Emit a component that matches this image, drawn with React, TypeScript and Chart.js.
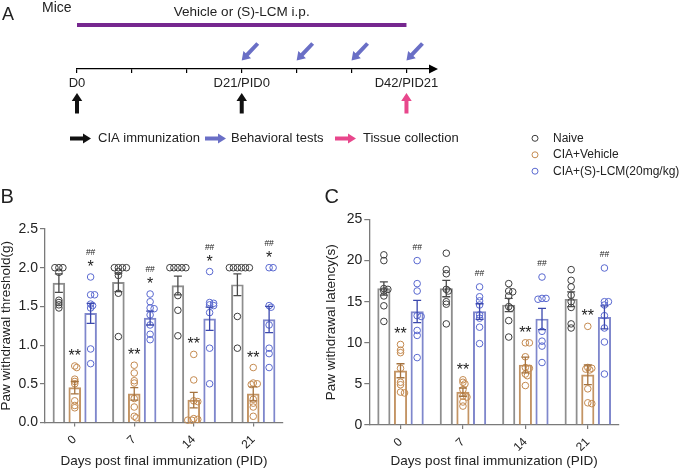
import React, { useEffect, useRef } from 'react';
import { Chart, registerables } from 'chart.js';

Chart.register(...registerables);

const FONT = "'Liberation Sans', Arial, Helvetica, sans-serif";
const W = 685;
const H = 471;

// ---------------- Panel A (timeline) ----------------
const timelineTickDays = [0, 7, 14, 21, 28, 35, 42];
const timelineTickLabels = ['D0', '', '', 'D21/PID0', '', '', 'D42/PID21'];
const treatmentSpan = [0, 42];
const immunizationDays = [0, 21];
const behaviorDays = [21, 28, 35, 42];
const tissueDays = [42];
const legendALabels = ['CIA immunization', 'Behavioral tests', 'Tissue collection'];

// ---------------- Panels B / C ----------------
const pidLabels = ['0', '7', '14', '21'];
const groupNames = ['Naive', 'CIA+Vehicle', 'CIA+(S)-LCM(20mg/kg)'];

// B: paw withdrawal threshold (g)
const thrNaiveMean = [1.80, 1.81, 1.77, 1.78];
const thrNaiveSem = [0.12, 0.12, 0.12, 0.14];
const thrVehMean = [0.45, 0.37, 0.29, 0.37];
const thrVehSem = [0.08, 0.08, 0.10, 0.09];
const thrLcmMean = [1.41, 1.35, 1.34, 1.33];
const thrLcmSem = [0.13, 0.09, 0.15, 0.17];
const thrNaivePts = [
  [2.0, 2.0, 2.0, 1.94, 1.58, 1.55, 1.52, 1.48],
  [2.0, 2.0, 2.0, 2.0, 1.95, 1.90, 1.67, 1.11],
  [2.0, 2.0, 2.0, 2.0, 2.0, 1.64, 1.45, 1.12],
  [2.0, 2.0, 2.0, 2.0, 2.0, 2.0, 1.37, 0.96],
];
const thrVehPts = [
  [0.73, 0.71, 0.56, 0.53, 0.50, 0.28, 0.22, 0.19],
  [0.74, 0.64, 0.54, 0.51, 0.31, 0.20, 0.08, 0.06],
  [0.88, 0.55, 0.28, 0.27, 0.05, 0.04, 0.03, 0.03],
  [0.71, 0.51, 0.50, 0.49, 0.30, 0.25, 0.20, 0.08],
];
const thrLcmPts = [
  [1.88, 1.65, 1.65, 1.53, 1.51, 1.48, 0.95, 0.76],
  [1.66, 1.56, 1.48, 1.47, 1.39, 1.26, 1.14, 1.07],
  [1.95, 1.55, 1.54, 1.52, 1.51, 1.42, 0.96, 0.50],
  [2.0, 2.0, 1.51, 1.49, 1.26, 0.96, 0.89, 0.71],
];
const thrVehSig = ['**', '**', '**', '**'];
const thrLcmSigNaive = ['*', '*', '*', '*'];
const thrLcmSigVeh = ['##', '##', '##', '##'];

// C: paw withdrawal latency (s)
const latNaiveMean = [16.6, 16.6, 14.6, 15.3];
const latNaiveSem = [0.8, 1.0, 0.8, 0.9];
const latVehMean = [6.6, 4.0, 7.3, 6.1];
const latVehSem = [0.85, 0.5, 0.95, 1.2];
const latLcmMean = [13.8, 13.8, 12.9, 13.1];
const latLcmSem = [1.35, 0.95, 1.3, 1.4];
const latNaivePts = [
  [20.7, 20.0, 16.6, 16.5, 16.3, 15.7, 14.5, 12.6],
  [20.9, 18.9, 18.4, 16.5, 16.3, 15.0, 14.7, 12.3],
  [17.2, 16.3, 16.2, 15.7, 14.4, 14.2, 12.7, 10.7],
  [18.9, 17.6, 16.8, 15.8, 15.0, 14.3, 12.3, 11.8],
];
const latVehPts = [
  [9.8, 9.1, 8.8, 6.9, 5.2, 4.9, 4.0, 3.9],
  [5.5, 5.2, 5.0, 4.3, 3.5, 3.4, 2.8, 2.3],
  [10.0, 10.0, 8.3, 7.0, 6.9, 6.2, 6.0, 4.8],
  [12.0, 7.0, 6.9, 6.8, 6.7, 4.4, 2.7, 2.6],
];
const latLcmPts = [
  [20.0, 17.2, 16.3, 13.3, 13.2, 11.5, 10.9, 8.2],
  [16.8, 15.6, 15.1, 14.6, 13.4, 13.0, 11.9, 9.9],
  [18.0, 15.4, 15.4, 15.3, 11.4, 10.2, 9.6, 7.6],
  [19.1, 15.0, 15.0, 14.6, 13.3, 11.8, 10.1, 6.2],
];
const latVehSig = ['**', '**', '**', '**'];
const latLcmSigVeh = ['##', '##', '##', '##'];

// ---------------- styles ----------------
const seriesStyles = [
  { bar: '#8e8e8e', pt: '#3d3d3d', err: '#4a4a4a' },
  { bar: '#c39464', pt: '#c48a50', err: '#a5733f' },
  { bar: '#7f87cc', pt: '#5a69d0', err: '#3b48ad' },
];
const AXIS = '#7a7a7a';
const TEXT = '#222222';

type Area = { left: number; right: number; top: number; bottom: number };
type PanelSpec = {
  letter: string;
  letterX: number;
  yMax: number;
  yStep: number;
  decimals: number;
  yTitle: string;
  means: number[][];
  sems: number[][];
  points: number[][][];
  marks: string[][][];
  area: Area;
  titleLeft: number;
  legend: boolean;
};

const panelB: PanelSpec = {
  letter: 'B',
  letterX: 0.5,
  yMax: 2.5,
  yStep: 0.5,
  decimals: 1,
  yTitle: 'Paw withdrawal threshold(g)',
  means: [thrNaiveMean, thrVehMean, thrLcmMean],
  sems: [thrNaiveSem, thrVehSem, thrLcmSem],
  points: [thrNaivePts, thrVehPts, thrLcmPts],
  marks: [[], [thrVehSig], [thrLcmSigNaive, thrLcmSigVeh]],
  area: { left: 45, right: 283, top: 229, bottom: 422.5 },
  titleLeft: 0,
  legend: false,
};

const panelC: PanelSpec = {
  letter: 'C',
  letterX: 324.5,
  yMax: 25,
  yStep: 5,
  decimals: 0,
  yTitle: 'Paw withdrawal latency(s)',
  means: [latNaiveMean, latVehMean, latLcmMean],
  sems: [latNaiveSem, latVehSem, latLcmSem],
  points: [latNaivePts, latVehPts, latLcmPts],
  marks: [[], [latVehSig], [latLcmSigVeh]],
  area: { left: 369.3, right: 619, top: 219.5, bottom: 425 },
  titleLeft: 324.7,
  legend: true,
};

// beeswarm offsets in pixels (deterministic)
function swarm(values: number[], pxPerUnit: number, step = 2, minDist = 2.3): number[] {
  const order = values.map((_, i) => i).sort((a, b) => values[b] - values[a]);
  const placed: { x: number; y: number }[] = [];
  const out = new Array(values.length).fill(0);
  for (const i of order) {
    const yy = values[i] * pxPerUnit;
    for (let k = 0; k < 60; k++) {
      const cand = k === 0 ? 0 : (k % 2 === 1 ? 1 : -1) * Math.ceil(k / 2) * step;
      if (placed.every((p) => Math.hypot(p.x - cand, p.y - yy) >= minDist)) {
        out[i] = cand;
        placed.push({ x: cand, y: yy });
        break;
      }
    }
  }
  return out;
}

function arrow(ctx: CanvasRenderingContext2D, x1: number, y1: number, x2: number, y2: number, color: string, shaft = 4, headW = 10.5, headL = 8) {
  const ang = Math.atan2(y2 - y1, x2 - x1);
  const len = Math.hypot(x2 - x1, y2 - y1);
  ctx.save();
  ctx.translate(x1, y1);
  ctx.rotate(ang);
  ctx.fillStyle = color;
  ctx.beginPath();
  ctx.moveTo(0, -shaft / 2);
  ctx.lineTo(len - headL, -shaft / 2);
  ctx.lineTo(len - headL, -headW / 2);
  ctx.lineTo(len, 0);
  ctx.lineTo(len - headL, headW / 2);
  ctx.lineTo(len - headL, shaft / 2);
  ctx.lineTo(0, shaft / 2);
  ctx.closePath();
  ctx.fill();
  ctx.restore();
}

function makeTimeline(canvas: HTMLCanvasElement) {
  const axisY = 69;
  const axisRight = 430;
  const plugin = {
    id: 'timelineDraw',
    afterDraw(chart: any) {
      const ctx: CanvasRenderingContext2D = chart.ctx;
      const xs = chart.scales.x;
      const px = (d: number) => xs.getPixelForValue(d);
      ctx.save();
      ctx.fillStyle = TEXT;
      ctx.textBaseline = 'alphabetic';
      ctx.font = `18px ${FONT}`;
      ctx.textAlign = 'left';
      ctx.fillText('A', 2, 20);
      ctx.font = `14px ${FONT}`;
      ctx.fillText('Mice', 42, 12);
      const x0 = px(treatmentSpan[0]);
      const x1 = px(treatmentSpan[1]);
      ctx.font = `13.5px ${FONT}`;
      ctx.textAlign = 'center';
      ctx.fillText('Vehicle or (S)-LCM i.p.', (x0 + x1) / 2, 16);
      ctx.strokeStyle = '#76278f';
      ctx.lineWidth = 4;
      ctx.beginPath();
      ctx.moveTo(x0, 25);
      ctx.lineTo(x1, 25);
      ctx.stroke();
      ctx.fillStyle = '#000';
      ctx.beginPath();
      ctx.moveTo(axisRight - 1, axisY - 4.5);
      ctx.lineTo(axisRight + 8, axisY);
      ctx.lineTo(axisRight - 1, axisY + 4.5);
      ctx.closePath();
      ctx.fill();
      immunizationDays.forEach((d) => arrow(ctx, px(d), 113.5, px(d), 93, '#111'));
      tissueDays.forEach((d) => arrow(ctx, px(d), 113.5, px(d), 93, '#e8478c'));
      behaviorDays.forEach((d) => arrow(ctx, px(d) + 16, 43.5, px(d), 60.5, '#6a6fc6'));
      const legendArrows = [
        { x: 70, color: '#111' },
        { x: 205, color: '#6a6fc6' },
        { x: 335, color: '#e8478c' },
      ];
      const legendTextX = [98, 231, 363];
      ctx.font = `13px ${FONT}`;
      ctx.textAlign = 'left';
      ctx.textBaseline = 'middle';
      legendALabels.forEach((t, i) => {
        arrow(ctx, legendArrows[i].x, 138.5, legendArrows[i].x + 21, 138.5, legendArrows[i].color, 4, 10, 8);
        ctx.fillStyle = TEXT;
        ctx.fillText(t, legendTextX[i], 138.5);
      });
      ctx.restore();
    },
  };
  return new Chart(canvas, {
    type: 'scatter',
    data: { datasets: [{ data: [] }] },
    plugins: [plugin],
    options: {
      animation: false,
      responsive: false,
      devicePixelRatio: 1,
      events: [],
      layout: { padding: { left: 77, right: W - axisRight, top: 20, bottom: 0 } },
      plugins: { legend: { display: false }, tooltip: { enabled: false } },
      scales: {
        x: {
          type: 'linear',
          min: 0,
          max: 45,
          position: 'bottom',
          afterFit: (s: any) => {
            s.height = H - axisY;
          },
          afterBuildTicks: (s: any) => {
            s.ticks = timelineTickDays.map((v) => ({ value: v }));
          },
          border: { display: true, color: '#000', width: 1.2 },
          grid: { drawOnChartArea: false, drawTicks: true, tickLength: 4, color: '#000', lineWidth: 1.2 },
          ticks: {
            autoSkip: false,
            maxRotation: 0,
            minRotation: 0,
            padding: 3,
            color: TEXT,
            font: { family: FONT, size: 13 },
            callback: (_v: any, i: number) => timelineTickLabels[i],
          },
        },
        y: { display: false, min: 0, max: 1 },
      },
    } as any,
  });
}

function makePanel(canvas: HTMLCanvasElement, p: PanelSpec) {
  const { area } = p;
  const pxPerUnit = (area.bottom - area.top) / p.yMax;
  const catPx = (area.right - area.left) / pidLabels.length;
  const groupFrac = 0.8;
  const seriesOffset = (s: number) => ((s - 1) * groupFrac) / 3;

  const barSets = p.means.map((m, s) => ({
    type: 'bar',
    label: groupNames[s],
    data: m.map((v, g) => ({ x: g + seriesOffset(s), y: v })),
    backgroundColor: 'rgba(255,255,255,0)',
    borderColor: seriesStyles[s].bar,
    borderWidth: 1.3,
    borderSkipped: 'bottom',
    grouped: false,
    barThickness: catPx * 0.2,
    order: 3,
  }));
  const ptSets = p.points.map((groups, s) => {
    const data: { x: number; y: number }[] = [];
    groups.forEach((vals, g) => {
      const off = swarm(vals, pxPerUnit);
      vals.forEach((v, i) => data.push({ x: g + seriesOffset(s) + off[i] / catPx, y: v }));
    });
    return {
      type: 'scatter',
      label: groupNames[s] + ' points',
      data,
      pointRadius: 3.3,
      pointBorderWidth: 1,
      pointBorderColor: seriesStyles[s].pt,
      pointBackgroundColor: 'rgba(255,255,255,0)',
      showLine: false,
      clip: false,
      order: 1,
    };
  });

  const plugin = {
    id: 'panelExtras' + p.letter,
    afterDatasetsDraw(chart: any) {
      const ctx: CanvasRenderingContext2D = chart.ctx;
      const ys = chart.scales.y;
      ctx.save();
      p.means.forEach((m, s) => {
        const meta = chart.getDatasetMeta(s);
        meta.data.forEach((el: any, i: number) => {
          const x = el.x;
          const yt = ys.getPixelForValue(m[i] + p.sems[s][i]);
          const yb = ys.getPixelForValue(m[i] - p.sems[s][i]);
          ctx.strokeStyle = seriesStyles[s].err;
          ctx.lineWidth = 1.3;
          ctx.beginPath();
          ctx.moveTo(x, yt);
          ctx.lineTo(x, yb);
          ctx.moveTo(x - 4, yt);
          ctx.lineTo(x + 4, yt);
          ctx.moveTo(x - 4, yb);
          ctx.lineTo(x + 4, yb);
          ctx.stroke();
        });
      });
      ctx.fillStyle = TEXT;
      ctx.textAlign = 'center';
      ctx.textBaseline = 'alphabetic';
      p.marks.forEach((levels, s) => {
        const meta = chart.getDatasetMeta(s);
        levels.forEach((labels, lv) => {
          labels.forEach((t, g) => {
            if (!t) return;
            const topVal = Math.max(...p.points[s][g], p.means[s][g] + p.sems[s][g]);
            const center = ys.getPixelForValue(topVal) - 14 - lv * 11;
            ctx.font = t.includes('#') ? `8.5px ${FONT}` : `16px ${FONT}`;
            const mt = ctx.measureText(t);
            const base = center + (mt.actualBoundingBoxAscent - mt.actualBoundingBoxDescent) / 2;
            ctx.fillText(t, meta.data[g].x, base);
          });
        });
      });
      ctx.restore();
    },
    afterDraw(chart: any) {
      const ctx: CanvasRenderingContext2D = chart.ctx;
      ctx.save();
      ctx.fillStyle = TEXT;
      ctx.font = `20px ${FONT}`;
      ctx.textAlign = 'left';
      ctx.textBaseline = 'alphabetic';
      ctx.fillText(p.letter, p.letterX, 203);
      if (p.legend) {
        const ly = [138.3, 154.8, 171.2];
        ctx.font = `12px ${FONT}`;
        ctx.textBaseline = 'middle';
        groupNames.forEach((n, s) => {
          ctx.strokeStyle = seriesStyles[s].pt;
          ctx.lineWidth = 1;
          ctx.beginPath();
          ctx.arc(535, ly[s], 3, 0, Math.PI * 2);
          ctx.stroke();
          ctx.fillStyle = TEXT;
          ctx.fillText(n, 553, ly[s]);
        });
      }
      ctx.restore();
    },
  };

  return new Chart(canvas, {
    type: 'bar',
    data: { datasets: [...barSets, ...ptSets] as any },
    plugins: [plugin],
    options: {
      animation: false,
      responsive: false,
      devicePixelRatio: 1,
      events: [],
      layout: { padding: { left: p.titleLeft, right: W - area.right, top: area.top, bottom: 0 } },
      plugins: { legend: { display: false }, tooltip: { enabled: false } },
      scales: {
        x: {
          type: 'linear',
          min: -0.5,
          max: pidLabels.length - 0.5,
          offset: false,
          position: 'bottom',
          afterFit: (s: any) => {
            s.height = H - area.bottom;
          },
          afterBuildTicks: (s: any) => {
            s.ticks = pidLabels.map((_, i) => ({ value: i }));
          },
          border: { display: true, color: AXIS, width: 1.3 },
          grid: { offset: false, drawOnChartArea: false, drawTicks: true, tickLength: 4, color: AXIS, lineWidth: 1.2 },
          ticks: {
            autoSkip: false,
            minRotation: 45,
            maxRotation: 45,
            padding: 6,
            color: TEXT,
            font: { family: FONT, size: 12 },
            callback: (_v: any, i: number) => pidLabels[i],
          },
          title: {
            display: true,
            text: 'Days post final immunization (PID)',
            color: TEXT,
            font: { family: FONT, size: 13.5, lineHeight: 1.2 },
            padding: { top: 0, bottom: 1.5 },
          },
        },
        y: {
          type: 'linear',
          min: 0,
          max: p.yMax,
          position: 'left',
          afterFit: (s: any) => {
            s.width = area.left - p.titleLeft;
          },
          border: { display: true, color: AXIS, width: 1.3 },
          grid: { drawOnChartArea: false, drawTicks: true, tickLength: 5, color: AXIS, lineWidth: 1.2 },
          ticks: {
            stepSize: p.yStep,
            padding: 2,
            color: TEXT,
            font: { family: FONT, size: 14 },
            callback: (v: any) => Number(v).toFixed(p.decimals),
          },
          title: {
            display: true,
            text: p.yTitle,
            color: TEXT,
            font: { family: FONT, size: 13.5, lineHeight: 1 },
            padding: { top: 0, bottom: 0 },
          },
        },
      },
    } as any,
  });
}

export default function App() {
  const aRef = useRef<HTMLCanvasElement>(null);
  const bRef = useRef<HTMLCanvasElement>(null);
  const cRef = useRef<HTMLCanvasElement>(null);
  useEffect(() => {
    const charts = [
      makeTimeline(aRef.current as HTMLCanvasElement),
      makePanel(bRef.current as HTMLCanvasElement, panelB),
      makePanel(cRef.current as HTMLCanvasElement, panelC),
    ];
    return () => charts.forEach((c) => c.destroy());
  }, []);
  const cs: React.CSSProperties = { position: 'absolute', left: 0, top: 0, width: W, height: H };
  return (
    <div style={{ position: 'absolute', left: 0, top: 0, width: W, height: H, background: '#ffffff', overflow: 'hidden' }}>
      <canvas ref={aRef} width={W} height={H} style={cs} />
      <canvas ref={bRef} width={W} height={H} style={cs} />
      <canvas ref={cRef} width={W} height={H} style={cs} />
    </div>
  );
}
